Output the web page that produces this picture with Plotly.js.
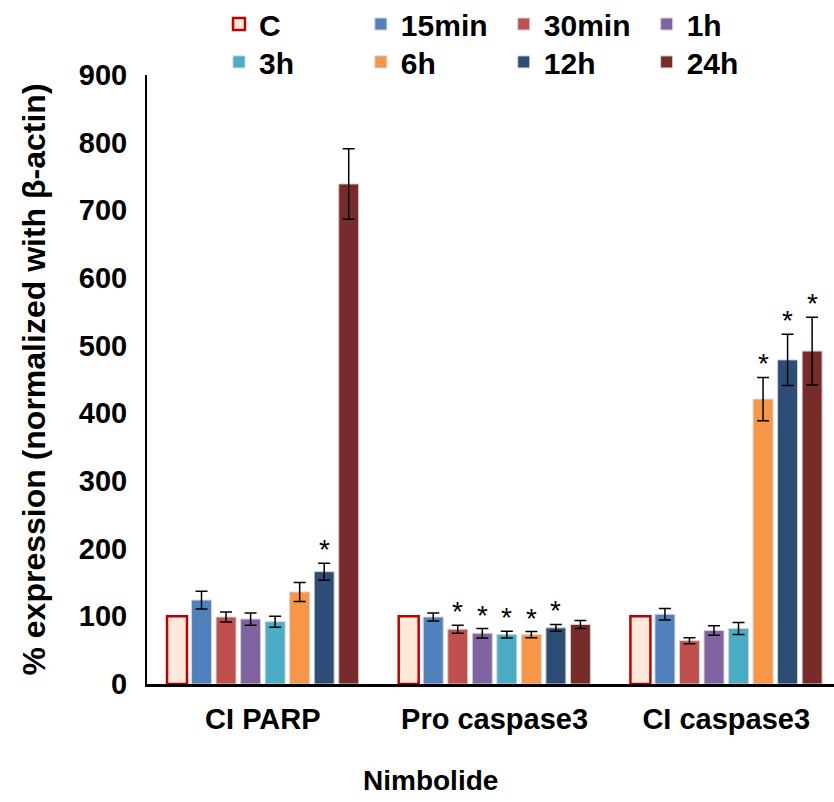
<!DOCTYPE html>
<html>
<head>
<meta charset="utf-8">
<script src="https://cdn.plot.ly/plotly-3.0.1.min.js"></script>
<style>
html,body{margin:0;padding:0;background:#fff;}
#chart{width:834px;height:802px;}
</style>
</head>
<body>
<div id="chart"></div>
<script>
// ---- data ----
const categories = ["CI PARP", "Pro caspase3", "CI caspase3"];
const seriesNames = ["C", "15min", "30min", "1h", "3h", "6h", "12h", "24h"];
const valC     = [100, 100, 100];
const val15min = [124, 99, 103];
const val30min = [99, 81, 64];
const val1h    = [96, 75, 79];
const val3h    = [92, 73, 82];
const val6h    = [136, 73, 421];
const val12h   = [166, 83, 479];
const val24h   = [739, 88, 492];
const errC     = [0, 0, 0];
const err15min = [13, 6, 8.5];
const err30min = [7.5, 6, 4.5];
const err1h    = [9, 7, 7];
const err3h    = [8, 5, 9];
const err6h    = [14, 4.5, 32];
const err12h   = [12.5, 5, 38];
const err24h   = [52, 6, 50];
// significance marks (*) per series, per category
const starC     = [false, false, false];
const star15min = [false, false, false];
const star30min = [false, true, false];
const star1h    = [false, true, false];
const star3h    = [false, true, false];
const star6h    = [false, true, true];
const star12h   = [true, true, true];
const star24h   = [false, false, true];
const yTicks = [0, 100, 200, 300, 400, 500, 600, 700, 800, 900];

// ---- styles ----
const colors = ["#FDE9D9", "#4F81BD", "#C0504D", "#8064A2", "#4BACC6", "#F79646", "#2C4D75", "#772C2A"];
const values = [valC, val15min, val30min, val1h, val3h, val6h, val12h, val24h];
const errors = [errC, err15min, err30min, err1h, err3h, err6h, err12h, err24h];
const stars  = [starC, star15min, star30min, star1h, star3h, star6h, star12h, star24h];

const FONT = "Liberation Sans, Arial, sans-serif";
const BARGAP = 0.153, BARGROUPGAP = 0.186;
const legendIds = ["legend", "legend2", "legend3", "legend4", "legend5", "legend6", "legend7", "legend8"];
const legendX = [0.1048, 0.3113, 0.5193, 0.7273];
const legendY = [1.0837, 1.0215];

const traces = seriesNames.map((name, i) => ({
  type: "bar",
  name: name,
  x: categories,
  y: values[i],
  legend: legendIds[i],
  marker: {
    color: colors[i],
    line: i === 0 ? {color: "#C00000", width: 2.5} : {color: "#D4D4D4", width: 1}
  },
  error_y: i === 0 ? {visible: false} : {
    type: "data", array: errors[i], visible: true,
    color: "#000", thickness: 1.5, width: 6
  },
  hoverinfo: "skip"
}));

// asterisk annotations placed above error bars
const annotations = [];
const nS = seriesNames.length;
const slot = (1 - BARGAP) / nS;
stars.forEach((arr, i) => {
  arr.forEach((s, c) => {
    if (!s) return;
    annotations.push({
      xref: "x", yref: "y",
      x: c + (i - (nS - 1) / 2) * slot,
      y: values[i][c] + errors[i][c],
      text: "*", showarrow: false,
      yanchor: "bottom", yshift: -4,
      font: {family: FONT, size: 28, color: "#000"}
    });
  });
});
// x-axis title (placed left of centre as in the original)
annotations.push({
  xref: "paper", yref: "paper", x: 0.412, y: -0.158,
  xanchor: "center", yanchor: "middle", showarrow: false,
  text: "Nimbolide",
  font: {family: FONT, size: 28, weight: "bold", color: "#000"}
});

const layout = {
  width: 834, height: 802,
  margin: {l: 146.5, r: 0, t: 75, b: 117.5, autoexpand: false},
  paper_bgcolor: "#fff", plot_bgcolor: "#fff",
  barmode: "group", bargap: BARGAP, bargroupgap: BARGROUPGAP,
  font: {family: FONT, color: "#000"},
  showlegend: true,
  xaxis: {
    type: "category",
    range: [-0.5, 2.465],
    showline: true, linecolor: "#000", linewidth: 2.5,
    ticks: "", showgrid: false, zeroline: false,
    ticklabelstandoff: 8,
    tickfont: {family: FONT, size: 29, weight: "bold", color: "#000"},
    automargin: false
  },
  yaxis: {
    range: [0, 900],
    tickvals: yTicks,
    ticktext: yTicks.map(String),
    showline: true, linecolor: "#000", linewidth: 2,
    ticks: "", showgrid: false, zeroline: false,
    ticklabelstandoff: 12,
    tickfont: {family: FONT, size: 29, weight: "bold", color: "#000"},
    title: {text: "% expression (normalized with β-actin)", font: {family: FONT, size: 32, weight: "bold", color: "#000"}, standoff: 24},
    automargin: false
  },
  annotations: annotations
};
legendIds.forEach((id, i) => {
  layout[id] = {
    orientation: "h",
    x: legendX[i % 4], y: legendY[Math.floor(i / 4)],
    xanchor: "left", yanchor: "middle",
    font: {family: FONT, size: 30, weight: "bold", color: "#000"},
    bgcolor: "rgba(0,0,0,0)", borderwidth: 0
  };
});

Plotly.newPlot("chart", traces, layout, {staticPlot: true, displayModeBar: false});
</script>
</body>
</html>
